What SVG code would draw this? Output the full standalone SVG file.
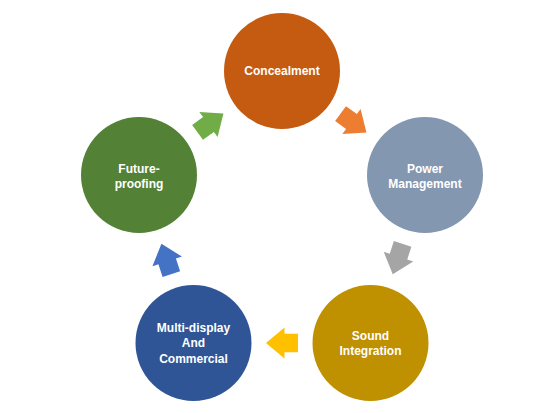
<svg xmlns="http://www.w3.org/2000/svg" xmlns:xlink="http://www.w3.org/1999/xlink" width="543" height="413" viewBox="0 0 543 413">
  <style>
    .lbl { font-family: "Liberation Sans", Arial, sans-serif; font-weight: bold; font-size: 12px; fill: #FFFFFF; text-anchor: middle; }
  </style>
  <defs>
    <path id="arr" d="M -16 -9.2 L -2.5 -9.2 L -2.5 -15.5 L 16 0 L -2.5 15.5 L -2.5 9.2 L -16 9.2 Z"/>
  </defs>
  <rect width="543" height="413" fill="#FFFFFF"/>
  <g id="connectors">
    <use href="#arr" xlink:href="#arr" fill="#ED7D31" transform="translate(353.5 123) rotate(36)"/>
    <use href="#arr" xlink:href="#arr" fill="#A5A5A5" transform="translate(397.7 259) rotate(108)"/>
    <use href="#arr" xlink:href="#arr" fill="#FFC000" transform="translate(282 343) rotate(180)"/>
    <use href="#arr" xlink:href="#arr" fill="#4472C4" transform="translate(166.4 259) rotate(252)"/>
    <use href="#arr" xlink:href="#arr" fill="#70AD47" transform="translate(210.5 123) rotate(-36)"/>
  </g>
  <g id="concealment">
    <circle cx="282" cy="71" r="58" fill="#C55A11"/>
    <text class="lbl" x="282" y="75">Concealment</text>
  </g>
  <g id="power-management">
    <circle cx="425" cy="175" r="58" fill="#8497B0"/>
    <text class="lbl" x="425" y="172.5">Power</text>
    <text class="lbl" x="425" y="187.5">Management</text>
  </g>
  <g id="sound-integration">
    <circle cx="370.5" cy="343" r="58" fill="#BF9000"/>
    <text class="lbl" x="370.5" y="339.5">Sound</text>
    <text class="lbl" x="370.5" y="355">Integration</text>
  </g>
  <g id="multi-display">
    <circle cx="193.5" cy="343" r="58" fill="#2F5597"/>
    <text class="lbl" x="193.5" y="332">Multi-display</text>
    <text class="lbl" x="193.5" y="347">And</text>
    <text class="lbl" x="193.5" y="362.5">Commercial</text>
  </g>
  <g id="future-proofing">
    <circle cx="139" cy="175" r="58" fill="#538135"/>
    <text class="lbl" x="139" y="172.5">Future-</text>
    <text class="lbl" x="139" y="187.5">proofing</text>
  </g>
</svg>
